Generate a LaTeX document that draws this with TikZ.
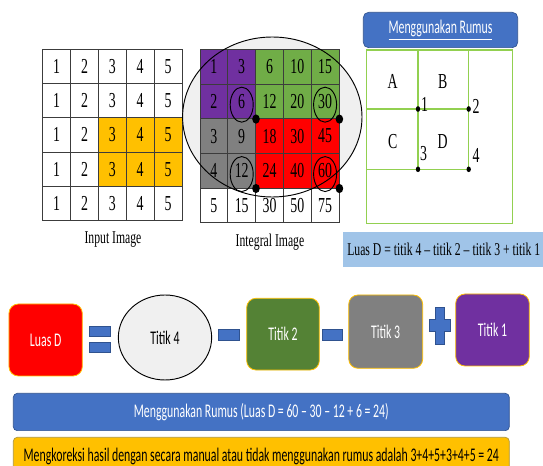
\documentclass[tikz,border=0pt]{standalone}
\usepackage{fontspec}
\setmainfont{Liberation Serif}
\newfontfamily\gridfont[FakeStretch=0.65]{Liberation Serif}
\newfontfamily\slidefont[FakeStretch=0.61]{Carlito}
\usetikzlibrary{shapes.geometric}

\definecolor{cellgold}{RGB}{255,192,0}
\definecolor{cellpurple}{RGB}{112,48,160}
\definecolor{cellgreen}{RGB}{112,173,71}
\definecolor{boxgreen}{RGB}{84,130,53}
\definecolor{cellgray}{RGB}{128,128,128}
\definecolor{cellred}{RGB}{255,0,0}
\definecolor{gridline}{RGB}{60,60,60}
\definecolor{ovalfill}{RGB}{240,240,240}
\definecolor{slideblue}{RGB}{68,114,196}
\definecolor{slideblueedge}{RGB}{47,82,143}
\definecolor{panelgreen}{RGB}{146,208,80}
\definecolor{formulablue}{RGB}{160,196,232}

\tikzset{
  gridcell/.style={draw=gridline, line width=0.6pt, inner sep=0pt,
    font=\gridfont\fontsize{16}{16}\selectfont},
  caption/.style={inner sep=0pt, font=\gridfont\fontsize{13.5}{14}\selectfont},
  panellabel/.style={inner sep=0pt, font=\gridfont\fontsize{16}{16}\selectfont},
  ring/.style={draw=black, line width=0.7pt},
  bigdot/.style={fill=black, draw=none},
  smalldot/.style={fill=black, draw=none},
  slidebox/.style={rounded corners=7pt, draw=cellgold, line width=0.6pt,
    font=\slidefont\fontsize{14.5}{14.5}\selectfont, inner sep=0pt},
  opbar/.style={fill=slideblue, draw=slideblueedge, line width=0.5pt},
  bar/.style={rounded corners=3pt, line width=0.5pt,
    font=\slidefont\fontsize{14.5}{14.5}\selectfont, inner sep=0pt},
  panelline/.style={draw=panelgreen, line width=0.8pt}
}

\begin{document}
\begin{tikzpicture}[x=0.75pt, y=-0.75pt]
\useasboundingbox (0,0) rectangle (543,466);

% ---------- input image grid ----------
\foreach \r in {1,...,5}{
  \foreach \c in {1,...,5}{
    \pgfmathtruncatemacro\hl{(\r>2)*(\r<5)*(\c>2)}
    \ifnum\hl=1 \def\cellfill{cellgold}\else\def\cellfill{white}\fi
    \node[gridcell, fill=\cellfill, minimum width=20.9pt, minimum height=25.75pt]
      (in-\r-\c) at ({42.7+27.86*(\c-0.5)},{49+34.34*(\r-0.5)}) {\c};
  }
}
\node[caption] (incap) at (113,240) {Input Image};

% ---------- integral image ----------
\node[ellipse, fill=ovalfill, minimum width=134.6pt, minimum height=120pt, inner sep=0pt]
  (bigoval) at (272.3,117) {};
\foreach \r in {1,...,5}{
  \foreach \c in {1,...,5}{
    \pgfmathtruncatemacro\v{\r*\c*(\c+1)/2}
    \ifnum\r=5 \def\cellfill{white}\else
      \ifnum\r<3
        \ifnum\c<3 \def\cellfill{cellpurple}\else\def\cellfill{cellgreen}\fi
      \else
        \ifnum\c<3 \def\cellfill{cellgray}\else\def\cellfill{cellred}\fi
      \fi
    \fi
    \node[gridcell, fill=\cellfill, minimum width=20.85pt, minimum height=26pt]
      (int-\r-\c) at ({200+27.8*(\c-0.5)},{49.3+34.7*(\r-0.5)}) {\v};
  }
}
\draw[line width=0.7pt] (bigoval.center) ellipse [x radius=89.7, y radius=80];
\node[caption] (intcap) at (270,242) {Integral Image};

% circled corner values
\foreach \r/\c in {2/2,2/5,4/2,4/5}{
  \draw[ring] ([yshift=-2.5pt]int-\r-\c.center) ellipse [x radius=11.5, y radius=17.5];
  \fill[bigdot] (int-\r-\c.south east) ellipse [x radius=3.8, y radius=4.6];
}

% ---------- formula panel ----------
\node[rounded corners=4pt, fill=slideblue, draw=slideblueedge, line width=0.5pt,
      minimum width=115.8pt, minimum height=26.5pt, inner sep=0pt,
      text=white, font=\slidefont\fontsize{14.5}{14.5}\selectfont]
  (header) at (440.5,30) {\underline{Menggunakan Rumus}};

\node[panelline, minimum width=109.5pt, minimum height=130pt, inner sep=0pt]
  (panel) at (439.7,136.65) {};
\coordinate (p1) at (418,109);
\coordinate (p2) at (468.7,109);
\coordinate (p3) at (418,169.3);
\coordinate (p4) at (468.7,169.3);
\draw[panelline] (p1 |- panel.north) -- (p3);
\draw[panelline] (p2 |- panel.north) -- (p4);
\draw[panelline] (p1 -| panel.west) -- (p2);
\draw[panelline] (p3 -| panel.west) -- (p4);
\foreach \p in {p1,p2,p3,p4}{\fill[smalldot] (\p) ellipse [x radius=2.2, y radius=2.8];}

\node[panellabel] (lA) at (392.7,81.7) {A};
\node[panellabel] (lB) at (442.7,81.7) {B};
\node[panellabel] (lC) at (392.7,141.7) {C};
\node[panellabel] (lD) at (442.7,141.7) {D};
\node[panellabel] (n1) at (424.5,104) {1};
\node[panellabel] (n2) at (476,106) {2};
\node[panellabel] (n3) at (423.5,154) {3};
\node[panellabel] (n4) at (476,155) {4};

\fill[formulablue] (343,232) rectangle (545,267);
\node[anchor=west, inner sep=0pt, font=\gridfont\fontsize{13.5}{14}\selectfont]
  (formula) at (347,249.5) {Luas D = titik 4 – titik 2 – titik 3 + titik 1};

% ---------- equation row ----------
\node[slidebox, fill=cellred, text=white, minimum width=55pt, minimum height=54pt]
  (luasd) at (45.65,340) {Luas D};
\draw[opbar] (89.3,326.7) rectangle (110.7,336.7);
\draw[opbar] (89.3,342) rectangle (110.7,352);
\node[ellipse, fill=ovalfill, draw=black, line width=0.7pt, inner sep=0pt,
      minimum width=70pt, minimum height=63.75pt,
      font=\slidefont\fontsize{14.5}{14.5}\selectfont] (t4) at (165,337.5) {Titik 4};
\draw[opbar] (218.3,329.3) rectangle (239,340);
\node[slidebox, fill=boxgreen, text=white, minimum width=54.5pt, minimum height=53.8pt]
  (t2) at (283,334.15) {Titik 2};
\draw[opbar] (322.7,329) rectangle (342.7,340.7);
\node[slidebox, fill=cellgray, text=white, minimum width=55.5pt, minimum height=55pt]
  (t3) at (385.7,331.65) {Titik 3};
\draw[opbar] (435.7,307.3) -- (444,307.3) -- (444,319.3) -- (450,319.3) -- (450,331.7)
  -- (444,331.7) -- (444,344) -- (435.7,344) -- (435.7,331.7) -- (429.3,331.7)
  -- (429.3,319.3) -- (435.7,319.3) -- cycle;
\node[slidebox, fill=cellpurple, text=white, minimum width=55.2pt, minimum height=54pt]
  (t1) at (492.5,330) {Titik 1};

% ---------- result bars ----------
\node[bar, fill=slideblue, draw=slideblueedge, text=white,
      minimum width=372pt, minimum height=28pt]
  (result) at (261.3,412) {Menggunakan Rumus (Luas D = 60 – 30 – 12 + 6 = 24)};
\begin{scope}
  \clip (0,0) rectangle (543,466);
  \draw[bar, fill=cellgold, draw=slideblueedge!40!cellgold] (13.3,437.3) rectangle (509.3,480);
\end{scope}
\node[inner sep=0pt, font=\slidefont\fontsize{14.5}{14.5}\selectfont]
  (check) at (261.3,456.5)
  {Mengkoreksi hasil dengan secara manual atau tidak menggunakan rumus adalah 3+4+5+3+4+5 = 24};
\end{tikzpicture}
\end{document}
